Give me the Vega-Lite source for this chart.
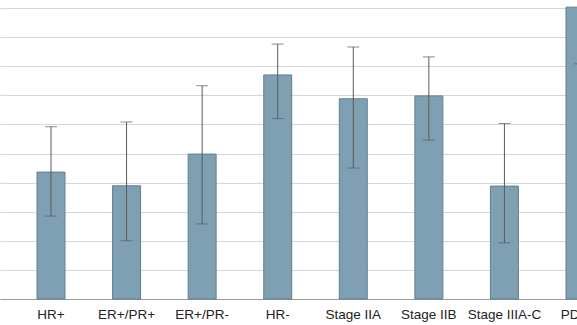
{
  "$schema": "https://vega.github.io/schema/vega-lite/v6.json",
  "autosize": {"type": "none"},
  "padding": {"left": 0, "top": 8, "right": 0, "bottom": 26},
  "width": 631,
  "height": 291,
  "background": "white",
  "data": {
    "values": [
      {"cat": "HR+", "value": 4.36, "lo": 2.85, "hi": 5.92},
      {"cat": "ER+/PR+", "value": 3.89, "lo": 2.0, "hi": 6.08},
      {"cat": "ER+/PR-", "value": 4.98, "lo": 2.58, "hi": 7.33},
      {"cat": "HR-", "value": 7.7, "lo": 6.2, "hi": 8.76},
      {"cat": "Stage IIA", "value": 6.88, "lo": 4.5, "hi": 8.66},
      {"cat": "Stage IIB", "value": 6.98, "lo": 5.46, "hi": 8.32},
      {"cat": "Stage IIIA-C", "value": 3.88, "lo": 1.93, "hi": 6.03},
      {"cat": "PD-L1", "value": 10.03, "lo": 8.08, "hi": 11.5}
    ]
  },
  "config": {
    "view": {"stroke": null},
    "font": "Liberation Sans Narrow, Liberation Sans, sans-serif",
    "axisY": {
      "title": null,
      "labels": false,
      "ticks": false,
      "domain": false,
      "grid": true,
      "gridColor": "#d6d6d6",
      "gridWidth": 1
    }
  },
  "encoding": {
    "x": {
      "field": "cat",
      "type": "nominal",
      "sort": null,
      "scale": {"paddingInner": 0.63, "paddingOuter": 0.49},
      "axis": {
        "title": null,
        "labelAngle": 0,
        "ticks": false,
        "domain": true,
        "domainColor": "#9a9a9a",
        "domainWidth": 1,
        "labelFontSize": 13.5,
        "labelColor": "#222222",
        "labelPadding": 8,
        "labelFont": "Liberation Sans Narrow, Liberation Sans, sans-serif"
      }
    }
  },
  "layer": [
    {
      "mark": {"type": "bar", "fill": "#7fa0b2", "stroke": "#5e7f90", "strokeWidth": 1, "clip": false},
      "encoding": {
        "y": {
          "field": "value",
          "type": "quantitative",
          "scale": {"domain": [0, 10], "nice": false},
          "axis": {"values": [0, 1, 2, 3, 4, 5, 6, 7, 8, 9, 10], "title": null}
        }
      }
    },
    {
      "mark": {"type": "rule", "color": "#5a5a5a", "strokeWidth": 1, "clip": false},
      "encoding": {
        "y": {"field": "lo", "type": "quantitative", "axis": {"values": [0, 1, 2, 3, 4, 5, 6, 7, 8, 9, 10], "title": null}},
        "y2": {"field": "hi"}
      }
    },
    {
      "mark": {"type": "tick", "color": "#5a5a5a", "thickness": 1, "size": 12, "clip": false},
      "encoding": {
        "y": {"field": "lo", "type": "quantitative", "axis": {"values": [0, 1, 2, 3, 4, 5, 6, 7, 8, 9, 10], "title": null}}
      }
    },
    {
      "mark": {"type": "tick", "color": "#5a5a5a", "thickness": 1, "size": 12, "clip": false},
      "encoding": {
        "y": {"field": "hi", "type": "quantitative", "axis": {"values": [0, 1, 2, 3, 4, 5, 6, 7, 8, 9, 10], "title": null}}
      }
    }
  ]
}
